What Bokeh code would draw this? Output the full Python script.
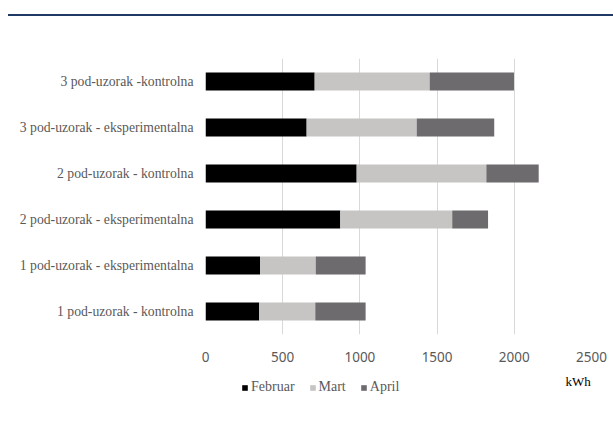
from bokeh.plotting import figure
from bokeh.models import ColumnDataSource, Legend, LegendItem, FactorRange, Range1d, FixedTicker, InlineStyleSheet, Label
from bokeh.layouts import column
from bokeh.embed import file_html
from bokeh.resources import INLINE

categories = [
    "3 pod-uzorak -kontrolna",
    "3 pod-uzorak - eksperimentalna",
    "2 pod-uzorak - kontrolna",
    "2 pod-uzorak - eksperimentalna",
    "1 pod-uzorak - eksperimentalna",
    "1 pod-uzorak - kontrolna",
]
februar = [707, 655, 979, 873, 353, 348]
mart = [745, 713, 840, 725, 361, 363]
april = [546, 502, 339, 232, 323, 326]
series = ["Februar", "Mart", "April"]
colors = ["#000000", "#C6C5C3", "#6D6B6D"]
x_ticks = [0, 500, 1000, 1500, 2000, 2500]
unit_label = "kWh"

src = ColumnDataSource(dict(cat=categories, Februar=februar, Mart=mart, April=april))

# main chart
p = figure(width=613, height=366, output_backend="svg", toolbar_location=None,
           y_range=FactorRange(*list(reversed(categories)), range_padding=0),
           x_range=Range1d(0, 2500),
           min_border_left=205, min_border_right=22, min_border_top=58, min_border_bottom=32)
p.outline_line_color = None
p.border_fill_color = "white"

rs = p.hbar_stack(series, y="cat", height=0.39, color=colors, source=src, line_color=None)

p.ygrid.grid_line_color = None
p.xgrid.grid_line_color = "#D9D9D9"
p.xaxis.ticker = FixedTicker(ticks=x_ticks)
p.xaxis.axis_line_color = None
p.xaxis.major_tick_line_color = None
p.xaxis.minor_tick_line_color = None
p.xaxis.major_label_text_font = "Noto Sans"
p.xaxis.major_label_text_font_size = "13.5px"
p.xaxis.major_label_text_color = "#595959"
p.xaxis.major_label_standoff = 11

p.yaxis.axis_line_color = None
p.yaxis.major_tick_line_color = None
p.yaxis.minor_tick_line_color = None
p.yaxis.major_label_text_font = "Liberation Serif"
p.yaxis.major_label_text_font_size = "13.7px"
p.yaxis.major_label_text_color = "#595959"
p.yaxis.major_label_standoff = 6

p.stylesheets = [InlineStyleSheet(css=":host::before { content: ''; position: absolute; "
                                      "left: 8px; top: 14px; width: 605px; height: 2px; "
                                      "background: #1F3864; z-index: 10; }")]

# legend strip below the chart (same series, hidden renderers used only as legend keys)
p2 = figure(width=613, height=66, output_backend="svg", toolbar_location=None,
            x_range=p.x_range, y_range=p.y_range,
            x_axis_location=None, y_axis_location=None, min_border=0)
p2.outline_line_color = None
p2.grid.visible = False
rs2 = p2.hbar_stack(series, y="cat", height=0.39, color=colors, source=src,
                    line_color=None, visible=False)

# frames of the two figures are aligned by the column, so offsets are from x=205
legend = Legend(items=[LegendItem(label=s, renderers=[r]) for s, r in zip(series, rs2)],
                orientation="horizontal", location=(36, 37),
                glyph_width=7, glyph_height=7, label_standoff=3, spacing=14,
                padding=0, margin=0, border_line_color=None, background_fill_alpha=0,
                inactive_fill_alpha=0,
                label_text_font="Liberation Serif", label_text_font_size="14px",
                label_text_color="#595959", label_height=14)
p2.add_layout(legend, "center")
p2.add_layout(Label(x=360, y=51, x_units="screen", y_units="screen", text=unit_label,
                    text_font="Liberation Serif", text_font_size="13px", text_color="#000000",
                    text_baseline="middle"))

layout = column(p, p2, spacing=0)
open("out.html", "w").write(file_html(layout, INLINE))
